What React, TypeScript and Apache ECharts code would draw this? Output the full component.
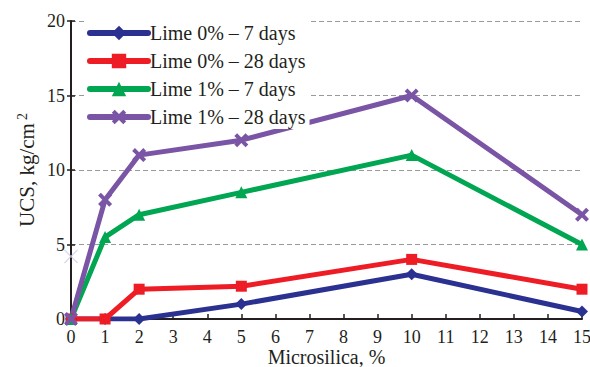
import React, { useEffect, useRef } from "react";
import * as echarts from "echarts";

const microsilica = [0, 1, 2, 5, 10, 15];
const lime0d7 = [0, 0, 0, 1, 3, 0.5];
const lime0d28 = [0, 0, 2, 2.2, 4, 2];
const lime1d7 = [0, 5.5, 7, 8.5, 11, 5];
const lime1d28 = [0, 8, 11, 12, 15, 7];
const faintMark = [[0, 4.2]];
const seriesNames = [
  "Lime 0% \u2013 7 days",
  "Lime 0% \u2013 28 days",
  "Lime 1% \u2013 7 days",
  "Lime 1% \u2013 28 days",
];

const FONT = "'Liberation Serif', 'Times New Roman', serif";
const X_SYMBOL =
  "path://M2,0 L5,3 L8,0 L10,2 L7,5 L10,8 L8,10 L5,7 L2,10 L0,8 L3,5 L0,2 Z";
const THIN_X =
  "path://M0,0.6 L0.6,0 L5,4.4 L9.4,0 L10,0.6 L5.6,5 L10,9.4 L9.4,10 L5,5.6 L0.6,10 L0,9.4 L4.4,5 Z";

export default function App() {
  const ref = useRef<HTMLDivElement>(null);
  useEffect(() => {
    if (!ref.current) return;
    const chart = echarts.init(ref.current, null, { renderer: "svg" });
    const mk = (vals: number[]) => microsilica.map((x, i) => [x, vals[i]]);
    const defs = [
      { name: seriesNames[0], data: lime0d7, color: "#2b3190", symbol: "diamond", size: 12 },
      { name: seriesNames[1], data: lime0d28, color: "#ee1c25", symbol: "rect", size: 11 },
      { name: seriesNames[2], data: lime1d7, color: "#00a651", symbol: "triangle", size: 12 },
      { name: seriesNames[3], data: lime1d28, color: "#7b55a5", symbol: X_SYMBOL, size: 14 },
    ];
    const axisText = { fontFamily: FONT, fontSize: 18, color: "#231f20" };
    chart.setOption({
      animation: false,
      backgroundColor: "#fff",
      grid: { left: 71, right: 8, top: 21, bottom: 48, containLabel: false, outerBoundsMode: "none" },
      legend: {
        left: 85,
        top: 21,
        orient: "vertical",
        backgroundColor: "#fff",
        padding: [2, 4, 2, 2],
        itemWidth: 58,
        itemHeight: 18,
        itemGap: 8,
        lineStyle: { width: 6, cap: "round" },
        textStyle: { fontFamily: FONT, fontSize: 20, color: "#231f20", lineHeight: 18, padding: [0, 0, 0, -3] },
        data: seriesNames,
      },
      xAxis: {
        type: "value",
        min: 0,
        max: 15,
        interval: 1,
        name: "Microsilica, %",
        nameLocation: "middle",
        nameMoveOverlap: false,
        nameGap: 28,
        nameTextStyle: { ...axisText, fontSize: 20 },
        axisLine: { lineStyle: { color: "#231f20", width: 2 } },
        axisTick: { inside: true, length: 5, lineStyle: { color: "#231f20", width: 1.5 } },
        axisLabel: { ...axisText, margin: 9 },
        splitLine: { show: false },
      },
      yAxis: [
        {
          type: "value",
          min: 0,
          max: 20,
          interval: 5,
          name: "UCS, kg/cm{s|2}",
          nameLocation: "middle",
          nameMoveOverlap: false,
          nameGap: 33,
          nameTextStyle: {
            ...axisText,
            fontSize: 21,
            rich: { s: { fontFamily: FONT, fontSize: 14, color: "#231f20", verticalAlign: "top", padding: [0, 0, 9, 3] } },
          },
          axisLine: { show: true, lineStyle: { color: "#231f20", width: 2 } },
          axisTick: { show: true, length: 4, lineStyle: { color: "#231f20", width: 1.5 } },
          axisLabel: { ...axisText, margin: 6 },
          splitLine: { show: true, lineStyle: { color: "#999", type: [5, 3], width: 1.2 } },
        },
        {
          type: "value",
          min: 0,
          max: 20,
          interval: 5,
          position: "left",
          offset: 0,
          axisLine: { show: false },
          axisTick: { show: true, inside: true, length: 4, lineStyle: { color: "#231f20", width: 1.5 } },
          axisLabel: { show: false },
          splitLine: { show: false },
        },
      ],
      series: [
        {
          name: "faint",
          type: "scatter",
          data: faintMark,
          symbol: THIN_X,
          symbolSize: 14,
          itemStyle: { color: "#cfc8e6" },
          silent: true,
          z: 1,
        },
        ...defs.map((d) => ({
          name: d.name,
          type: "line",
          data: mk(d.data),
          symbol: d.symbol,
          symbolSize: d.size,
          showAllSymbol: true,
          lineStyle: { color: d.color, width: 5 },
          itemStyle: { color: d.color },
          z: 3,
        })),
      ],
    });
    return () => chart.dispose();
  }, []);
  return <div ref={ref} style={{ width: 590, height: 367, position: "absolute", left: 0, top: 0 }} />;
}
